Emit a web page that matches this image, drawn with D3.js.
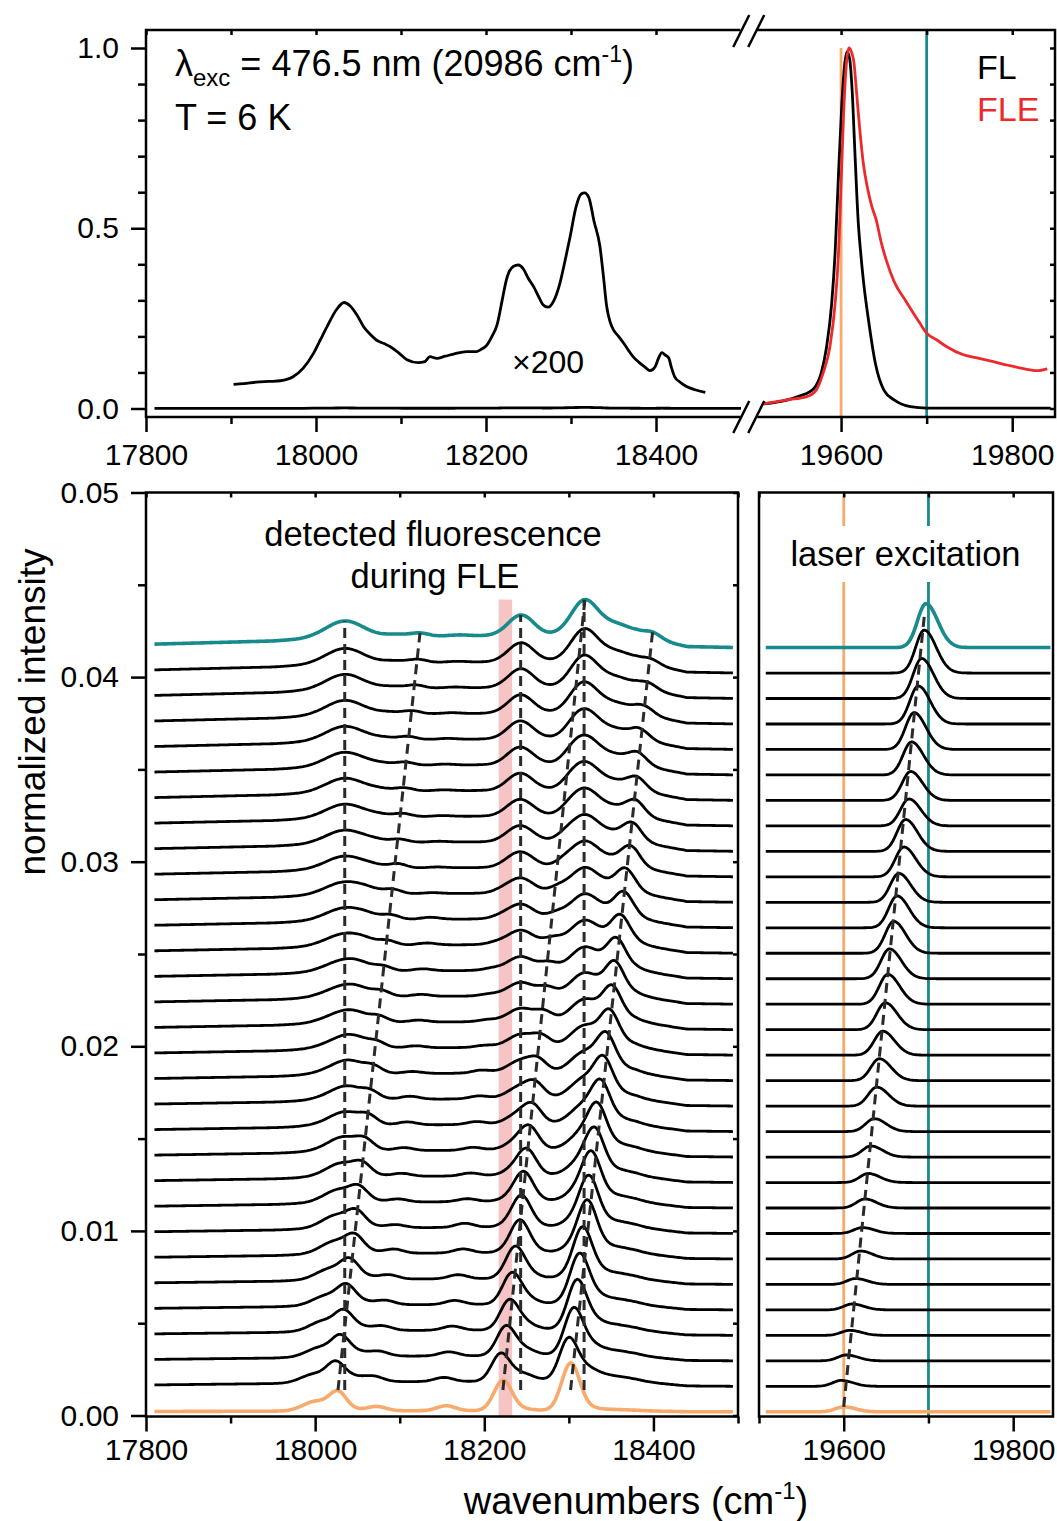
<!DOCTYPE html>
<meta charset="utf-8"/>
<title>FLE spectra</title>
<script src="https://cdn.jsdelivr.net/npm/d3@7"></script>
<style>
  body { margin: 0; background: #fff; }
  svg { font-family: 'Liberation Sans', Arial, sans-serif; }
  .frame { fill: none; stroke: #000; stroke-width: 2.5; }
  .axis line { stroke: #000; stroke-width: 2.5; }
  .axis text { font-size: 30px; font-family: 'Liberation Sans', Arial, sans-serif; fill: #000; }
  .trace { fill: none; stroke-width: 2.8; stroke-linejoin: round; }
  .guide { fill: none; stroke: #2a2a2a; stroke-width: 3; stroke-dasharray: 10 6; }
</style>
<svg id="chart" width=1057 height=1521></svg>
<script>
  // ---- top panel: FL spectrum (x200 part) and FL / FLE around the origin band
  const flZoomed = [[17903,0.067],[17915,0.069],[17930,0.073],[17945,0.075],[17958,0.077],[17973,0.088],
    [17985,0.112],[17997,0.153],[18005,0.19],[18013,0.227],[18024,0.274],[18033,0.294],[18040,0.285],
    [18048,0.26],[18056,0.227],[18064,0.205],[18071,0.19],[18080,0.18],[18087,0.172],[18097,0.155],
    [18107,0.135],[18120,0.127],[18128,0.13],[18134,0.144],[18142,0.139],[18152,0.145],[18162,0.151],
    [18177,0.158],[18189,0.158],[18195,0.165],[18201,0.176],[18207,0.2],[18213,0.232],[18219,0.3],
    [18224,0.357],[18232,0.394],[18238,0.398],[18244,0.387],[18250,0.36],[18256,0.338],[18262,0.31],
    [18267,0.288],[18273,0.281],[18280,0.3],[18287,0.348],[18293,0.41],[18299,0.477],[18306,0.56],
    [18312,0.595],[18316,0.598],[18321,0.585],[18327,0.52],[18334,0.45],[18338,0.37],[18342,0.283],
    [18346,0.24],[18350,0.218],[18356,0.2],[18362,0.181],[18368,0.16],[18373,0.144],[18380,0.128],
    [18387,0.115],[18393,0.105],[18399,0.116],[18403,0.14],[18407,0.155],[18411,0.148],[18415,0.14],
    [18418,0.115],[18422,0.088],[18429,0.072],[18436,0.061],[18446,0.052],[18458,0.045]];
  const flScale = 200;
  const flOrigin = [[19510,0.013],[19530,0.02],[19552,0.035],[19568,0.055],[19577,0.1],[19583,0.17],
    [19589,0.29],[19593,0.43],[19597,0.65],[19601,0.85],[19604,0.95],[19607,0.99],[19610,0.97],
    [19613,0.88],[19616,0.72],[19620,0.52],[19623,0.43],[19626,0.357],[19632,0.246],[19640,0.126],
    [19650,0.051],[19662,0.024],[19681,0.005],[19700,0.001],[19760,0.001],[19845,0.001]];
  const fleOrigin = [[19509,0.0125],[19537,0.024],[19560,0.033],[19571,0.051],[19579,0.098],[19587,0.172],
    [19593,0.29],[19597,0.43],[19600,0.62],[19603,0.82],[19606,0.95],[19609,1.0],[19612,0.99],
    [19615,0.96],[19618,0.88],[19622,0.77],[19626,0.68],[19631,0.61],[19636,0.56],[19641,0.524],
    [19647,0.46],[19653,0.41],[19662,0.352],[19676,0.297],[19692,0.237],[19700,0.209],[19712,0.19],
    [19723,0.172],[19743,0.149],[19760,0.14],[19778,0.13],[19795,0.12],[19810,0.112],[19829,0.105],
    [19841,0.11]];
  const laserMarks = [19600, 19700];   // orange, teal

  // ---- lower panels: 31 stacked spectra, index 0 = orange (bottom), 30 = teal (top)
  const laserPos = [19600, 19597,19603,19607,19610,19614,19620,19622,19625,19629,19632,19636,19639,19642,
    19646,19649,19652,19654,19659,19663,19665,19671,19673,19677,19679,19680,19683,19688,19692,19695, 19697];
  // amplitudes below are in units of 1e-4 normalized intensity
  const laserAmp = [2.7, 3.2,3.2,2.7,3.2,3.2,4.3,3.2,4.9,4.9,6.0,7.0,10.3,11.9,13.0,14.6,16.2,16.2,17.3,17.3,
    15.7,16.2,17.3,14.6,15.7,17.9,20.0,20.6,21.7,23.3, 23.8];
  const broadWeight = [0.1, 0.45,0.46,0.48,0.5,0.52,0.55,0.56,0.58,0.6,0.62,0.64,0.66,0.68,0.7,0.72,0.74,
    0.75,0.78,0.8,0.82,0.84,0.86,0.88,0.9,0.92,0.94,0.96,0.98,1.0, 1.08];
  const pedestalX = [17800, 17950, 18000, 18100, 18200, 18300, 18380, 18410, 18440, 18500];
  const pedestalY = [1.6, 3.3, 4.6, 5.6, 6.0, 6.5, 6.2, 3.3, 0.5, 0];
  const bandPos = [18035, 18243, 18318, 18355];
  const bandWidth = [22, 15, 16, 20];
  const bandAmp = [8.4, 9.8, 15.6, 5.4];
  const resShift = [1600, 1573, 1527, 1445, 1378, 1298];
  const resWidth = [15, 10, 11, 11, 10.5, 10.5];
  const ampA2 = [4.9, 3.8,3.8,3.8,3.2,3.2,3.2,3.2,2.7,2.7,2.7,2.2,2.2,2.2,2.2,1.6,1.6,1.6,1.6,1.6,1.6,
    1.1,1.1,1.1,1.1,1.1,1.1,1.1,1.1,1.1, 1.1];
  const ampA1 = [9.2, 7.6,7.6,7.0,7.0,7.0,6.5,6.0,5.4,4.9,4.3,3.8,3.2,3.2,2.7,2.7,2.7,2.2,2.2,2.2,2.2,2.2,
    1.6,1.6,1.6,1.6,1.6,1.6,1.6,1.6, 1.6];
  const ampS1 = [2.2, 2.2,2.2,2.2,2.2,2.2,2.2,1.6,1.6,1.6,1.6,1.6,1.6,1.1,1.1,1.1,1.1,1.1,1.1,1.1,
    0.5,0.5,0.5,0.5,0.5,0.5,0.5,0.5,0.5,0.5, 0.5];
  const ampS2 = [2.7, 2.2,2.2,2.2,2.2,2.2,2.2,2.2,1.6,1.6,1.6,1.6,1.6,1.6,1.1,1.1,1.1,1.1,1.1,1.1,1.1,
    0.5,0.5,0.5,0.5,0.5,0.5,0.5,0.5,0.5, 0.5];
  const ampB1 = [16.2, 14.1,14.1,13.5,13.5,13.0,12.5,11.9,10.8,9.7,8.7,7.6,6.5,6.0,5.4,4.9,4.3,3.8,3.2,
    2.7,2.7,2.2,2.2,1.6,1.6,1.6,1.1,1.1,1.1,1.1, 1.1];
  const ampC1 = [24.9, 20.0,20.6,20.6,20.0,19.5,19.5,19.0,18.4,17.9,17.9,17.3,16.8,16.2,15.2,14.6,14.1,
    13.0,11.9,10.8,9.7,8.7,7.6,6.5,5.4,4.9,4.3,3.8,3.2,2.7, 3.2];
  const markFixed = [18035, 18243, 18318];
  const markShift = [1573, 1378, 1298];
  const pinkBand = [18217, 18233];
  const pinkTop = 0.0442;
  const STACK_BASE = 0.0002, STACK_STEP = 0.00138;
  const LASER_SIGMA = [10, 14];

  const colors = {teal: '#178b8b', orange: '#f8aa6c', red: '#ec2a2c', pink: '#f6c4c4'};

  const svg = d3.select('#chart');

  // scales
  const xTopL = d3.scaleLinear().domain([17800, 18500]).range([146, 741]);
  const xTopR = d3.scaleLinear().domain([19500, 19850]).range([755.5, 1055]);
  const yTop = d3.scaleLinear().domain([0, 1]).range([408.5, 48]);
  const xBotL = d3.scaleLinear().domain([17800, 18500]).range([146, 738]);
  const xBotR = d3.scaleLinear().domain([19500, 19847]).range([759, 1053]);
  const yBot = d3.scaleLinear().domain([0, 0.05]).range([1415.5, 492.5]);
  const topY0 = 30, topY1 = 417;
  const botY0 = yBot(0.05), botY1 = yBot(0) + 1;

  // spectra model
  const pedestal = d3.scaleLinear().domain(pedestalX).range(pedestalY).clamp(true);
  const gauss = (x, c, s) => Math.exp(-0.5 * ((x - c) / s) ** 2);
  const resAmps = [ampA2, ampA1, ampS1, ampS2, ampB1, ampC1];
  const offsetOf = i => STACK_BASE + i * STACK_STEP;
  function fluo(i, x) {
    let v = pedestal(x);
    bandPos.forEach((c, k) => { v += bandAmp[k] * gauss(x, c, bandWidth[k]); });
    v *= broadWeight[i];
    resShift.forEach((s, k) => { v += resAmps[k][i] * gauss(x, laserPos[i] - s, resWidth[k]); });
    return offsetOf(i) + v * 1e-4;
  }
  function laserLine(i, x) {
    const s = x < laserPos[i] ? LASER_SIGMA[0] : LASER_SIGMA[1];
    return offsetOf(i) + laserAmp[i] * 1e-4 * gauss(x, laserPos[i], s);
  }
  const lastIdx = laserPos.length - 1;
  const traceColor = i => i === 0 ? colors.orange : (i === lastIdx ? colors.teal : '#000');

  // ---------------- top panel ----------------
  const gTop = svg.append('g');
  // laser marker lines
  gTop.append('line').attr('x1', xTopR(laserMarks[0])).attr('x2', xTopR(laserMarks[0]))
    .attr('y1', topY1).attr('y2', yTop(1)).attr('stroke', colors.orange).attr('stroke-width', 2.8);
  gTop.append('line').attr('x1', xTopR(laserMarks[1])).attr('x2', xTopR(laserMarks[1]))
    .attr('y1', topY1).attr('y2', topY0).attr('stroke', colors.teal).attr('stroke-width', 2.8);

  const lineTL = d3.line().curve(d3.curveMonotoneX).x(d => xTopL(d[0])).y(d => yTop(d[1]));
  const lineTR = d3.line().curve(d3.curveMonotoneX).x(d => xTopR(d[0])).y(d => yTop(d[1]));
  const flPlain = [[17810, 0.0004]].concat(flZoomed.map(d => [d[0], d[1] / flScale]), [[18500, 0.0004]]);
  gTop.append('path').attr('class', 'trace').attr('stroke', '#000').attr('d', lineTL(flPlain));
  gTop.append('path').attr('class', 'trace').attr('stroke', '#000').attr('d', lineTL(flZoomed));
  gTop.append('path').attr('class', 'trace').attr('stroke', '#000').attr('d', lineTR(flOrigin));
  gTop.append('path').attr('class', 'trace').attr('stroke', colors.red).attr('d', lineTR(fleOrigin));

  // frame with axis break
  const xBreak = (xTopL(18500) + xTopR(19500)) / 2;
  const gapL = xBreak - 8, gapR = xBreak + 9;
  gTop.append('path').attr('class', 'frame').attr('d',
    `M${gapL},${topY0}H${xTopL(17800)}V${topY1}H${gapL}` +
    `M${gapR},${topY0}H${xTopR(19850)}V${topY1}H${gapR}`);
  [topY0 + 1, topY1].forEach(yc => {
    [-7, 8].forEach(dx => {
      gTop.append('line').attr('x1', xBreak + dx - 8).attr('y1', yc + 16)
        .attr('x2', xBreak + dx + 8).attr('y2', yc - 16)
        .attr('stroke', '#000').attr('stroke-width', 2.5);
    });
  });

  function xAxis(scale, major, minor, yAxisPos, yMirror, pad) {
    const g = svg.append('g').attr('class', 'axis');
    g.append('g').attr('transform', `translate(0,${yAxisPos})`)
      .call(d3.axisBottom(scale).tickValues(major).tickSize(15).tickPadding(pad).tickFormat(d3.format('d')));
    g.append('g').attr('transform', `translate(0,${yAxisPos})`)
      .call(d3.axisBottom(scale).tickValues(minor).tickSize(7).tickFormat(''));
    g.append('g').attr('transform', `translate(0,${yMirror})`)
      .call(d3.axisBottom(scale).tickValues(major.concat(minor)).tickSize(5).tickFormat(''));
    g.selectAll('.domain').remove();
  }
  function yAxis(scale, major, minor, xAxisPos, xMirror, fmt) {
    const g = svg.append('g').attr('class', 'axis');
    g.append('g').attr('transform', `translate(${xAxisPos},0)`)
      .call(d3.axisLeft(scale).tickValues(major).tickSize(15).tickPadding(12).tickFormat(d3.format(fmt)));
    g.append('g').attr('transform', `translate(${xAxisPos},0)`)
      .call(d3.axisLeft(scale).tickValues(minor).tickSize(8).tickFormat(''));
    g.append('g').attr('transform', `translate(${xMirror},0)`)
      .call(d3.axisLeft(scale).tickValues(major.concat(minor)).tickSize(5).tickFormat(''));
    g.selectAll('.domain').remove();
  }

  xAxis(xTopL, [17800, 18000, 18200, 18400], [17900, 18100, 18300], topY1, topY0, 12);
  xAxis(xTopR, [19600, 19800], [19700], topY1, topY0, 12);
  yAxis(yTop, [0, 0.5, 1], [0.1, 0.2, 0.3, 0.4, 0.6, 0.7, 0.8, 0.9], xTopL(17800), xTopR(19850), '.1f');

  // top panel annotations
  const lam = svg.append('text').attr('x', 175).attr('y', 76).attr('font-size', 36);
  lam.append('tspan').text('λ');
  lam.append('tspan').attr('font-size', 24).attr('dy', 10).text('exc');
  lam.append('tspan').attr('dy', -10).text(' = 476.5 nm (20986 cm');
  lam.append('tspan').attr('font-size', 23).attr('dy', -14).text('-1');
  lam.append('tspan').attr('dy', 14).text(')');
  svg.append('text').attr('x', 175).attr('y', 130).attr('font-size', 36).text('T = 6 K');
  svg.append('text').attr('x', 977).attr('y', 79).attr('font-size', 34).text('FL');
  svg.append('text').attr('x', 977).attr('y', 121).attr('font-size', 34).attr('fill', colors.red).text('FLE');
  svg.append('text').attr('x', 512).attr('y', 373).attr('font-size', 32).text('×' + flScale);

  // ---------------- lower left panel ----------------
  const gBL = svg.append('g');
  gBL.append('rect').attr('x', xBotL(pinkBand[0])).attr('width', xBotL(pinkBand[1]) - xBotL(pinkBand[0]))
    .attr('y', yBot(pinkTop)).attr('height', yBot(0) - yBot(pinkTop) + 1).attr('fill', colors.pink);

  const xsL = d3.range(17810, 18496, 2);
  const xsR = d3.range(19508, 19845, 2);
  const lineBL = d3.line().x(d => xBotL(d[0])).y(d => yBot(d[1]));
  const lineBR = d3.line().x(d => xBotR(d[0])).y(d => yBot(d[1]));

  // lower right panel text and laser marker lines (broken around the label)
  const gBR = svg.append('g');
  const lblLaser = svg.append('text').attr('x', 905.5).attr('y', 566).attr('font-size', 34.5)
    .attr('text-anchor', 'middle').text('laser excitation');
  const bb = lblLaser.node().getBBox();
  laserMarks.forEach((m, k) => {
    const col = k === 0 ? colors.orange : colors.teal;
    [[botY0, bb.y - 9], [bb.y + bb.height + 9, botY1]].forEach(seg => {
      gBR.append('line').attr('x1', xBotR(m)).attr('x2', xBotR(m)).attr('y1', seg[0]).attr('y2', seg[1])
        .attr('stroke', col).attr('stroke-width', 2.8);
    });
  });

  laserPos.forEach((lp, i) => {
    const w = (i === 0 || i === lastIdx) ? 3.6 : 2.8;
    gBL.append('path').attr('class', 'trace').attr('stroke', traceColor(i)).style('stroke-width', w)
      .attr('d', lineBL(xsL.map(x => [x, fluo(i, x)])));
    gBR.append('path').attr('class', 'trace').attr('stroke', traceColor(i)).style('stroke-width', w)
      .attr('d', lineBR(xsR.map(x => [x, laserLine(i, x)])));
  });

  // dashed guides following the peaks
  const guideBottom = offsetOf(1) - 0.0002;
  markFixed.forEach(c => {
    gBL.append('path').attr('class', 'guide')
      .attr('d', lineBL([[c, guideBottom], [c, fluo(lastIdx, c)]]));
  });
  markShift.forEach(s => {
    const x0 = laserPos[0] - s, x1 = laserPos[lastIdx] - s;
    gBL.append('path').attr('class', 'guide')
      .attr('d', lineBL([[x0, guideBottom], [x1, fluo(lastIdx, x1)]]));
  });
  const lpPrev = laserPos[lastIdx - 1];
  gBR.append('path').attr('class', 'guide').attr('d', lineBR([
    [laserPos[0], laserLine(0, laserPos[0])],
    [lpPrev, (laserLine(lastIdx - 1, lpPrev) + laserLine(lastIdx, laserPos[lastIdx])) / 2]]));

  // frames
  svg.append('rect').attr('class', 'frame').attr('x', xBotL(17800)).attr('y', botY0)
    .attr('width', xBotL(18500) - xBotL(17800)).attr('height', botY1 - botY0);
  svg.append('rect').attr('class', 'frame').attr('x', xBotR(19500)).attr('y', botY0)
    .attr('width', xBotR(19847) - xBotR(19500)).attr('height', botY1 - botY0);

  xAxis(xBotL, [17800, 18000, 18200, 18400], [17900, 18100, 18300, 18500], botY1, botY0, 7);
  xAxis(xBotR, [19600, 19800], [19500, 19700], botY1, botY0, 7);
  yAxis(yBot, d3.range(0, 0.0501, 0.01), d3.range(0.005, 0.05, 0.01), xBotL(17800), xBotL(18500), '.2f');

  // lower left labels
  svg.append('text').attr('x', 433).attr('y', 546).attr('font-size', 34.5).attr('text-anchor', 'middle')
    .text('detected fluorescence');
  svg.append('text').attr('x', 435).attr('y', 588).attr('font-size', 34.5).attr('text-anchor', 'middle')
    .text('during FLE');

  // axis titles
  svg.append('text').attr('transform', 'translate(45,712) rotate(-90)').attr('font-size', 37)
    .attr('text-anchor', 'middle').text('normalized intensity');
  const xt = svg.append('text').attr('x', 636).attr('y', 1514).attr('font-size', 38).attr('text-anchor', 'middle');
  xt.append('tspan').text('wavenumbers (cm');
  xt.append('tspan').attr('font-size', 24).attr('dy', -15).text('-1');
  xt.append('tspan').attr('dy', 15).text(')');
</script>
